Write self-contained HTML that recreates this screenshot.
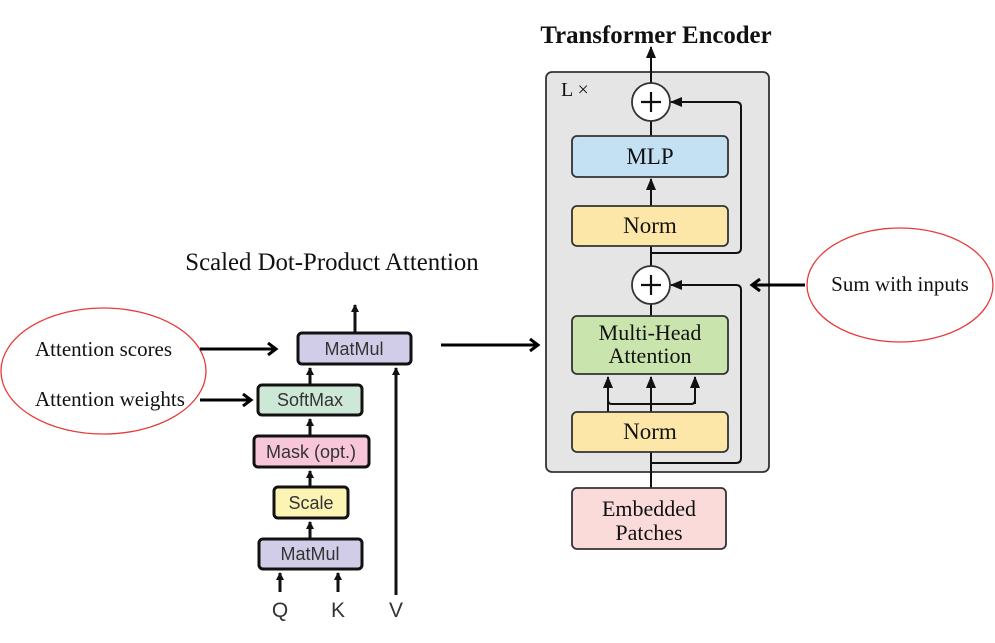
<!DOCTYPE html>
<html><head><style>
html,body{margin:0;padding:0;background:#fff;}
svg{display:block;}
.s{font-family:"Liberation Sans",sans-serif;fill:#333;}
.r{font-family:"Liberation Serif",serif;fill:#111;}
</style></head><body>
<svg width="995" height="643" viewBox="0 0 995 643" xmlns="http://www.w3.org/2000/svg">
<defs>
<marker id="a" markerWidth="8" markerHeight="8" refX="7" refY="4" orient="auto" markerUnits="userSpaceOnUse"><path d="M0,0 L8,4 L0,8 z" fill="#111"/></marker>
<marker id="b" markerWidth="14" markerHeight="14" refX="10" refY="7" orient="auto" markerUnits="userSpaceOnUse"><path d="M2,1 L10,7 L2,13" fill="none" stroke="#000" stroke-width="3"/></marker>
<marker id="c" markerWidth="12" markerHeight="12" refX="11" refY="6" orient="auto" markerUnits="userSpaceOnUse"><path d="M0,1 L12,6 L0,11 z" fill="#111"/></marker>
</defs>

<text x="332" y="270" class="r" text-anchor="middle" style="font-size:24.8px">Scaled Dot-Product Attention</text>
<g stroke="#111" stroke-width="3">
<line x1="355" y1="333" x2="355" y2="305" marker-end="url(#a)"/>
<line x1="310" y1="385" x2="310" y2="368" marker-end="url(#a)"/>
<line x1="310" y1="436" x2="310" y2="419" marker-end="url(#a)"/>
<line x1="310" y1="487" x2="310" y2="471" marker-end="url(#a)"/>
<line x1="310" y1="539" x2="310" y2="522" marker-end="url(#a)"/>
<line x1="280" y1="592" x2="280" y2="573" marker-end="url(#a)"/>
<line x1="338" y1="592" x2="338" y2="573" marker-end="url(#a)"/>
<line x1="396" y1="595" x2="396" y2="368" marker-end="url(#a)"/>
</g>
<g stroke="#111" stroke-width="3">
<rect x="298" y="333" width="113" height="31" rx="4" fill="#d1cde8"/>
<rect x="258" y="385" width="104" height="30" rx="4" fill="#cde8d6"/>
<rect x="254" y="436" width="115" height="31" rx="4" fill="#f7c6d9"/>
<rect x="274" y="487" width="74" height="31" rx="4" fill="#fbf4b4"/>
<rect x="259" y="539" width="103" height="30" rx="4" fill="#d1cde8"/>
</g>
<text x="354" y="355" class="s" text-anchor="middle" style="font-size:18px">MatMul</text>
<text x="310" y="406" class="s" text-anchor="middle" style="font-size:18px">SoftMax</text>
<text x="311" y="458" class="s" text-anchor="middle" style="font-size:18px">Mask (opt.)</text>
<text x="311" y="509" class="s" text-anchor="middle" style="font-size:18px">Scale</text>
<text x="310" y="560" class="s" text-anchor="middle" style="font-size:18px">MatMul</text>
<text x="280" y="617" class="s" text-anchor="middle" style="font-size:21px">Q</text>
<text x="338" y="617" class="s" text-anchor="middle" style="font-size:21px">K</text>
<text x="396" y="617" class="s" text-anchor="middle" style="font-size:21px">V</text>

<ellipse cx="103.5" cy="371" rx="102.5" ry="63" fill="none" stroke="#e83a3a" stroke-width="1.3"/>
<text x="35" y="356" class="r" style="font-size:21px">Attention scores</text>
<text x="35" y="406" class="r" style="font-size:21px">Attention weights</text>
<ellipse cx="900" cy="285" rx="93" ry="57" fill="none" stroke="#e83a3a" stroke-width="1.3"/>
<text x="900" y="291" class="r" text-anchor="middle" style="font-size:21px">Sum with inputs</text>

<text x="656" y="43" class="r" text-anchor="middle" style="font-size:24.8px;font-weight:bold">Transformer Encoder</text>
<rect x="546" y="72" width="223" height="400" rx="6" fill="#e5e5e5" stroke="#333" stroke-width="1.8"/>
<text x="561" y="96" class="r" style="font-size:20px" fill="#222">L ×</text>
<g stroke="#111" stroke-width="2" fill="none">
<line x1="651" y1="83" x2="651" y2="47" marker-end="url(#c)"/>
<line x1="651" y1="136" x2="651" y2="121"/>
<line x1="651" y1="206" x2="651" y2="179" marker-end="url(#c)"/>
<line x1="651" y1="266" x2="651" y2="246"/>
<line x1="651" y1="316" x2="651" y2="304"/>
<line x1="651" y1="488" x2="651" y2="377" marker-end="url(#c)"/>
<path d="M651,253 H736 Q741,253 741,248 V107 Q741,102 736,102 H671" marker-end="url(#c)"/>
<path d="M651,463 H736 Q741,463 741,458 V290 Q741,285 736,285 H671" marker-end="url(#c)"/>
<path d="M608,412 V400 Q608,404 612,404 H691 Q695,404 695,400 V377" />
<line x1="608" y1="404" x2="608" y2="377" marker-end="url(#c)"/>
<line x1="695" y1="404" x2="695" y2="377" marker-end="url(#c)"/>
</g>
<g stroke="#333" stroke-width="1.8">
<circle cx="651" cy="102" r="19" fill="#fff"/>
<circle cx="651" cy="285" r="19" fill="#fff"/>
<rect x="572" y="136" width="156" height="41" rx="5" fill="#c4e1f3"/>
<rect x="572" y="206" width="156" height="40" rx="5" fill="#fde7a8"/>
<rect x="572" y="316" width="156" height="58" rx="5" fill="#c9e5ad"/>
<rect x="572" y="412" width="156" height="40" rx="5" fill="#fde7a8"/>
<rect x="572" y="488" width="154" height="61" rx="5" fill="#fbdada"/>
</g>
<g stroke="#111" stroke-width="2.2">
<line x1="641" y1="102" x2="661" y2="102"/><line x1="651" y1="92" x2="651" y2="112"/>
<line x1="641" y1="285" x2="661" y2="285"/><line x1="651" y1="275" x2="651" y2="295"/>
</g>
<text x="650" y="164" class="r" text-anchor="middle" style="font-size:23px">MLP</text>
<text x="650" y="233" class="r" text-anchor="middle" style="font-size:23px">Norm</text>
<text x="650" y="340" class="r" text-anchor="middle" style="font-size:22px">Multi-Head</text>
<text x="650" y="363" class="r" text-anchor="middle" style="font-size:22px">Attention</text>
<text x="650" y="439" class="r" text-anchor="middle" style="font-size:23px">Norm</text>
<text x="649" y="516" class="r" text-anchor="middle" style="font-size:22px">Embedded</text>
<text x="649" y="540" class="r" text-anchor="middle" style="font-size:22px">Patches</text>

<g stroke="#000" stroke-width="3" fill="none">
<line x1="200" y1="349" x2="276" y2="349" marker-end="url(#b)"/>
<line x1="200" y1="400" x2="251" y2="400" marker-end="url(#b)"/>
<line x1="441" y1="345" x2="538" y2="345" marker-end="url(#b)"/>
<line x1="805" y1="285" x2="752" y2="285" marker-end="url(#b)"/>
</g>
</svg>
</body></html>
